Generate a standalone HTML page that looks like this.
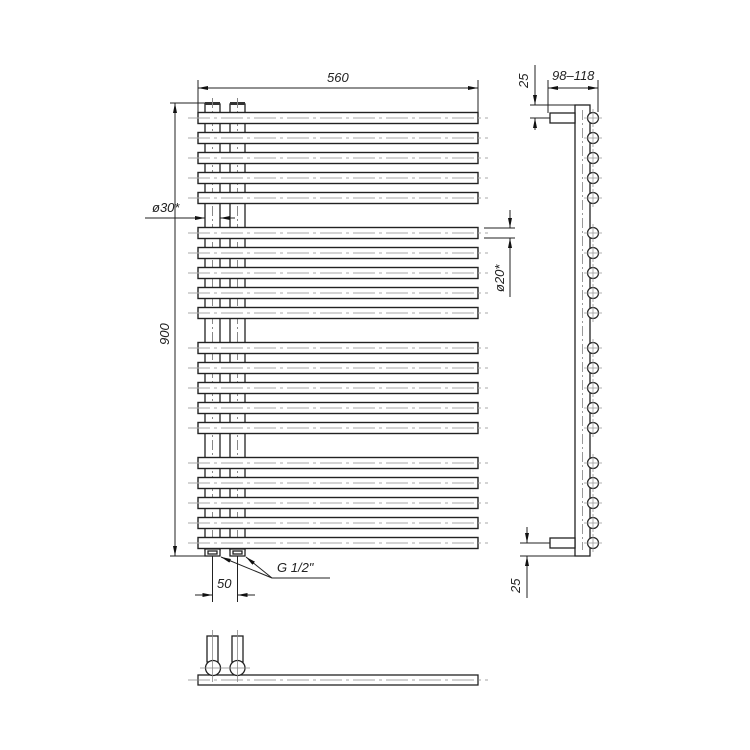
<!DOCTYPE html>
<html><head><meta charset="utf-8"><style>html,body{margin:0;padding:0;background:#fff}svg{display:block}text{font-family:"Liberation Sans",sans-serif;font-style:italic;fill:#222}</style></head>
<body>
<svg width="750" height="750" viewBox="0 0 750 750" xmlns="http://www.w3.org/2000/svg">
<defs>
<marker id="a" viewBox="0 0 10 4" refX="10" refY="2" markerWidth="10" markerHeight="4" orient="auto-start-reverse" markerUnits="userSpaceOnUse"><path d="M0,0 L10,2 L0,4 Z" fill="#111"/></marker>
<g id="t">
<rect x="198" y="-5.5" width="280" height="11" fill="#fff" stroke="#222" stroke-width="1.4"/>
<line x1="188" y1="0" x2="488" y2="0" stroke="#aaa" stroke-width="1" stroke-dasharray="22,4,3,4"/>
</g>
<g id="c">
<circle cx="593" cy="0" r="5.5" fill="#fff" stroke="#222" stroke-width="1.2"/>
<line x1="584" y1="0" x2="602" y2="0" stroke="#999" stroke-width="0.8"/>
<line x1="593" y1="-9" x2="593" y2="9" stroke="#999" stroke-width="0.8"/>
</g>
</defs>
<!-- collectors -->
<g fill="#fff" stroke="#222" stroke-width="1.3">
<rect x="205" y="104" width="15" height="446"/>
<rect x="230" y="104" width="15" height="446"/>
</g>
<rect x="205" y="102" width="15" height="3" fill="#333"/>
<rect x="230" y="102" width="15" height="3" fill="#333"/>
<g stroke="#888" stroke-width="1" stroke-dasharray="10,3,2,3">
<line x1="212.5" y1="98" x2="212.5" y2="560"/>
<line x1="237.5" y1="98" x2="237.5" y2="560"/>
</g>
<!-- tubes -->
<use href="#t" y="118"/><use href="#t" y="138"/><use href="#t" y="158"/><use href="#t" y="178"/><use href="#t" y="198"/>
<use href="#t" y="233"/><use href="#t" y="253"/><use href="#t" y="273"/><use href="#t" y="293"/><use href="#t" y="313"/>
<use href="#t" y="348"/><use href="#t" y="368"/><use href="#t" y="388"/><use href="#t" y="408"/><use href="#t" y="428"/>
<use href="#t" y="463"/><use href="#t" y="483"/><use href="#t" y="503"/><use href="#t" y="523"/><use href="#t" y="543"/>
<!-- fittings -->
<g fill="#fff" stroke="#222" stroke-width="1.3">
<rect x="205" y="549" width="15" height="7"/><rect x="230" y="549" width="15" height="7"/>
<rect x="208" y="551" width="9" height="3"/><rect x="233" y="551" width="9" height="3"/>
</g>
<!-- dims main -->
<g stroke="#222" stroke-width="1" fill="none">
<line x1="198" y1="80" x2="198" y2="112"/>
<line x1="478" y1="80" x2="478" y2="112"/>
<line x1="198" y1="88" x2="478" y2="88" marker-start="url(#a)" marker-end="url(#a)"/>
<line x1="170" y1="103" x2="205" y2="103"/>
<line x1="170" y1="556" x2="205" y2="556"/>
<line x1="175" y1="103" x2="175" y2="556" marker-start="url(#a)" marker-end="url(#a)"/>
<line x1="145" y1="218" x2="205" y2="218" marker-end="url(#a)"/>
<line x1="220" y1="218" x2="235" y2="218" marker-start="url(#a)"/>
<line x1="484" y1="228" x2="515" y2="228"/>
<line x1="484" y1="238" x2="515" y2="238"/>
<line x1="510" y1="210" x2="510" y2="228" marker-end="url(#a)"/>
<line x1="510" y1="297" x2="510" y2="238" marker-end="url(#a)"/>
<line x1="212.5" y1="556" x2="212.5" y2="602"/>
<line x1="237.5" y1="556" x2="237.5" y2="602"/>
<line x1="195" y1="595" x2="212.5" y2="595" marker-end="url(#a)"/>
<line x1="255" y1="595" x2="237.5" y2="595" marker-end="url(#a)"/>
<polyline points="330,578 272,578"/>
<line x1="272" y1="578" x2="221" y2="557" marker-end="url(#a)"/>
<line x1="272" y1="578" x2="246" y2="557" marker-end="url(#a)"/>
</g>
<text x="327" y="82" font-size="13">560</text>
<text x="152" y="212" font-size="13">ø30*</text>
<text transform="translate(169,345) rotate(-90)" font-size="13">900</text>
<text transform="translate(504,292) rotate(-90)" font-size="13">ø20*</text>
<text x="277" y="572" font-size="13">G 1/2"</text>
<text x="217" y="588" font-size="13">50</text>
<!-- side view -->
<rect x="575" y="105" width="15" height="451" fill="#fff" stroke="#222" stroke-width="1.3"/>
<line x1="582.5" y1="110" x2="582.5" y2="550" stroke="#999" stroke-dasharray="10,3,2,3"/>
<rect x="550" y="113" width="25" height="10" fill="#fff" stroke="#222" stroke-width="1.3"/>
<rect x="550" y="538" width="25" height="10" fill="#fff" stroke="#222" stroke-width="1.3"/>
<use href="#c" y="118"/><use href="#c" y="138"/><use href="#c" y="158"/><use href="#c" y="178"/><use href="#c" y="198"/>
<use href="#c" y="233"/><use href="#c" y="253"/><use href="#c" y="273"/><use href="#c" y="293"/><use href="#c" y="313"/>
<use href="#c" y="348"/><use href="#c" y="368"/><use href="#c" y="388"/><use href="#c" y="408"/><use href="#c" y="428"/>
<use href="#c" y="463"/><use href="#c" y="483"/><use href="#c" y="503"/><use href="#c" y="523"/><use href="#c" y="543"/>
<g stroke="#222" stroke-width="1" fill="none">
<line x1="530" y1="105" x2="575" y2="105"/>
<line x1="530" y1="118" x2="550" y2="118"/>
<line x1="535" y1="65" x2="535" y2="105" marker-end="url(#a)"/>
<line x1="535" y1="130" x2="535" y2="118" marker-end="url(#a)"/>
<line x1="548" y1="80" x2="548" y2="113"/>
<line x1="598" y1="80" x2="598" y2="112"/>
<line x1="548" y1="88" x2="598" y2="88" marker-start="url(#a)" marker-end="url(#a)"/>
<line x1="520" y1="543" x2="550" y2="543"/>
<line x1="520" y1="556" x2="575" y2="556"/>
<line x1="527" y1="527" x2="527" y2="543" marker-end="url(#a)"/>
<line x1="527" y1="598" x2="527" y2="556" marker-end="url(#a)"/>
</g>
<text transform="translate(528,88) rotate(-90)" font-size="13">25</text>
<text x="552" y="80" font-size="13">98–118</text>
<text transform="translate(520,593) rotate(-90)" font-size="13">25</text>
<!-- bottom view -->
<g fill="#fff" stroke="#222" stroke-width="1.3">
<rect x="207" y="636" width="11" height="26"/>
<rect x="232" y="636" width="11" height="26"/>
<rect x="198" y="675" width="280" height="10"/>
<circle cx="213" cy="668" r="7.5"/>
<circle cx="237.5" cy="668" r="7.5"/>
</g>
<g stroke="#888" stroke-width="0.8">
<line x1="188" y1="680" x2="488" y2="680" stroke-dasharray="22,4,3,4"/>
<line x1="200" y1="668" x2="250" y2="668"/>
<line x1="212.5" y1="630" x2="212.5" y2="682"/>
<line x1="237.5" y1="630" x2="237.5" y2="682"/>
</g>
</svg>
</body></html>
